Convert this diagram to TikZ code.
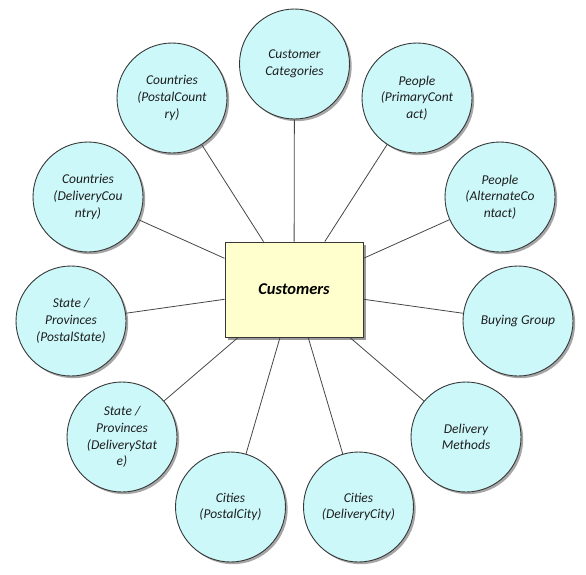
\documentclass[tikz,border=0pt]{standalone}
\usepackage{fontspec}
\setmainfont{Carlito}
\usetikzlibrary{shadows}
\definecolor{circfill}{RGB}{205,248,250}
\definecolor{rectfill}{RGB}{255,255,206}
\definecolor{edgecol}{RGB}{55,55,55}
\definecolor{linecol}{RGB}{70,70,70}
\definecolor{txtcol}{RGB}{30,30,30}
\tikzset{
  entity/.style={circle, draw=edgecol, line width=0.9pt, fill=circfill,
    minimum size=110pt, inner sep=0pt, align=center,
    font=\fontsize{13.5}{16.7}\selectfont\itshape, text=txtcol,
    drop shadow={shadow xshift=2.2pt, shadow yshift=-2.2pt, fill=black, opacity=0.35}},
  hub/.style={rectangle, draw=edgecol, line width=0.9pt, fill=rectfill,
    minimum width=138pt, minimum height=95pt, inner sep=0pt,
    font=\fontsize{16.5}{19}\selectfont\bfseries\itshape, text=black,
    drop shadow={shadow xshift=2.5pt, shadow yshift=-2.5pt, fill=black, opacity=0.4}},
  link/.style={draw=linecol, line width=0.8pt}
}
\begin{document}
\begin{tikzpicture}[x=1pt,y=-1pt]
\useasboundingbox (0,0) rectangle (586,574);
\node[hub] (cust) at (294,289.5) {Customers};
\node[entity] (cat) at (294.5,64) {Customer\\Categories};
\node[entity] (pcountry) at (172,98) {Countries\\(PostalCount\\ry)};
\node[entity] (pcontact) at (417,98) {People\\(PrimaryCont\\act)};
\node[entity] (dcountry) at (88,197) {Countries\\(DeliveryCou\\ntry)};
\node[entity] (acontact) at (500,197) {People\\(AlternateCo\\ntact)};
\node[entity] (pstate) at (71,321) {State /\\Provinces\\(PostalState)};
\node[entity] (bgroup) at (518,321) {Buying Group};
\node[entity] (dstate) at (122,437) {State /\\Provinces\\(DeliveryStat\\e)};
\node[entity] (dmethods) at (466,437) {Delivery\\Methods};
\node[entity] (pcity) at (230.5,507) {Cities\\(PostalCity)};
\node[entity] (dcity) at (358.5,507) {Cities\\(DeliveryCity)};
\foreach \n in {cat,pcountry,pcontact,dcountry,acontact,pstate,bgroup,dstate,dmethods,pcity,dcity}
  \draw[link] (\n) -- (cust);
\end{tikzpicture}
\end{document}
